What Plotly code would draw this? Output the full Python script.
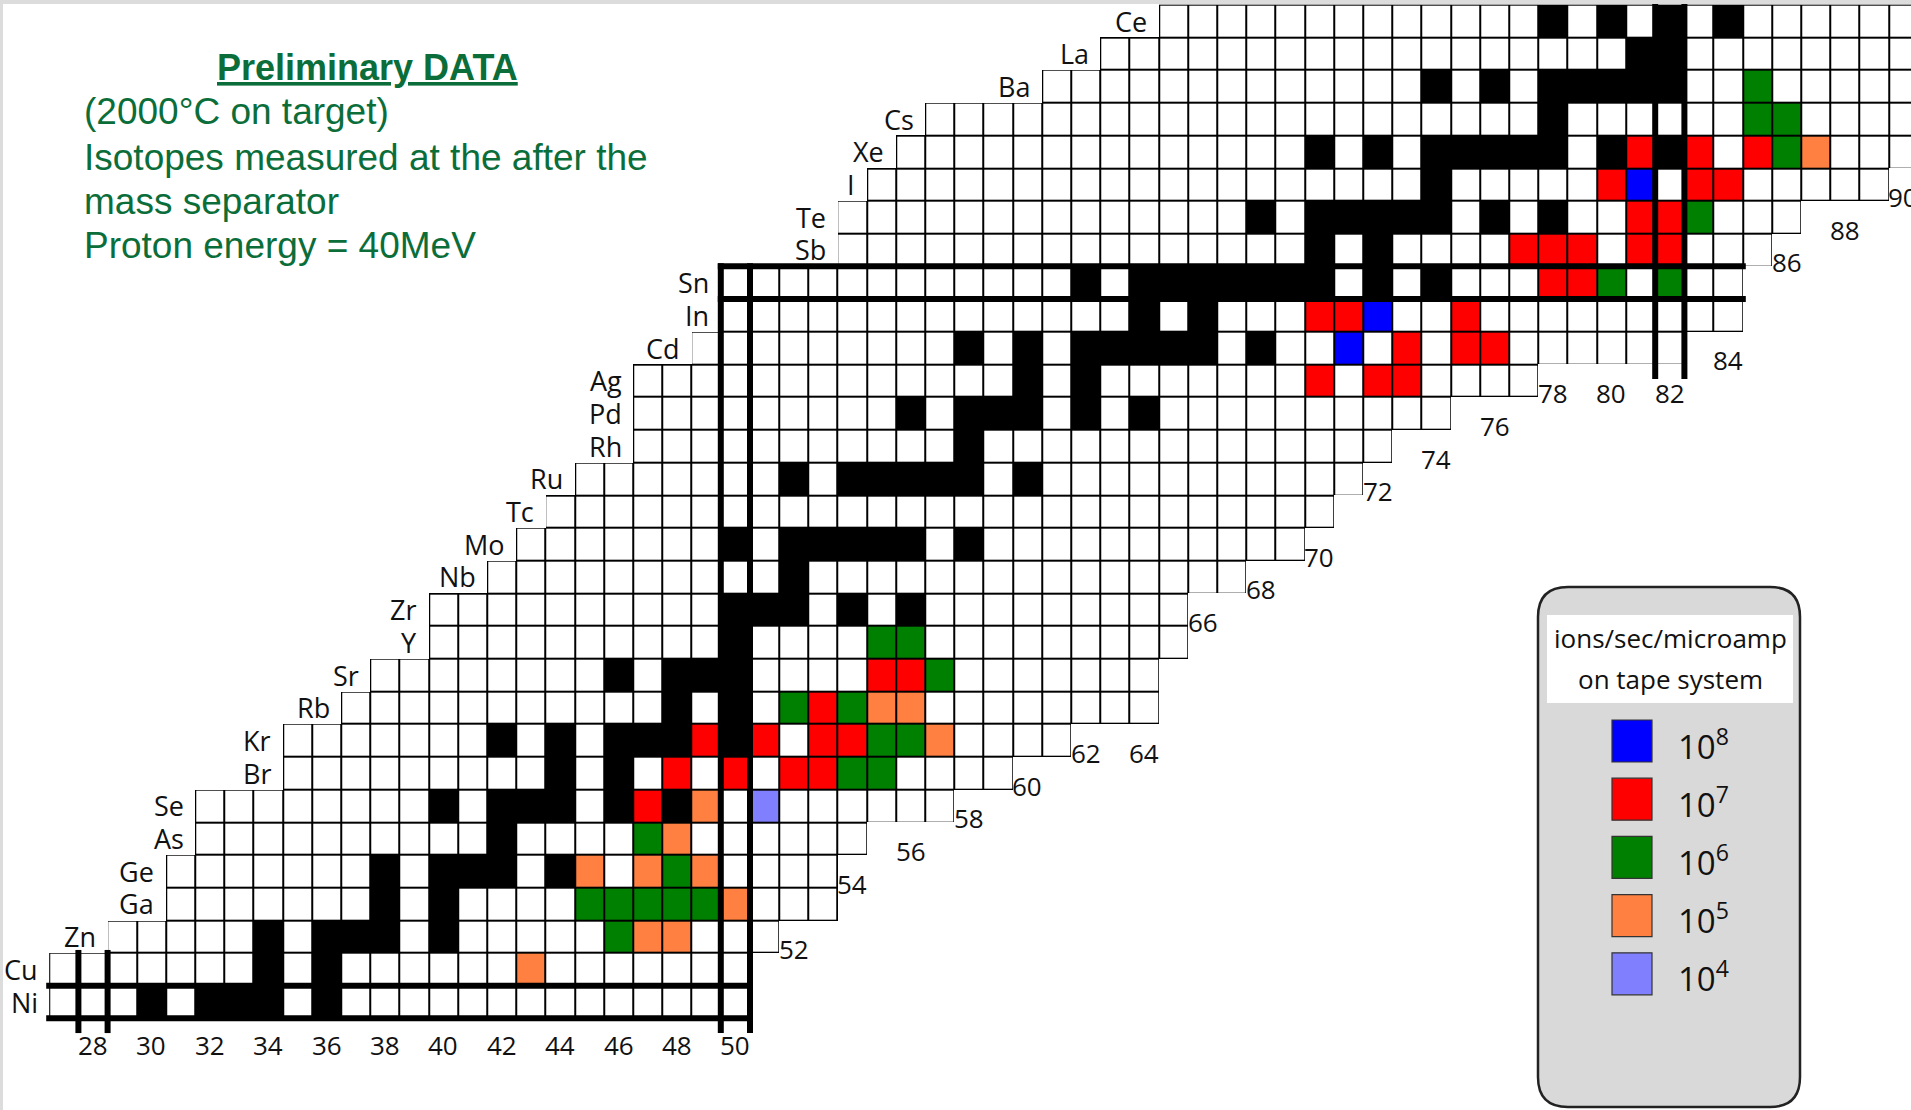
import plotly.graph_objects as go

# ---------------- chart of nuclides, Z = 28 (Ni) ... 58 (Ce) ----------------
elements = ["Ni", "Cu", "Zn", "Ga", "Ge", "As", "Se", "Br", "Kr", "Rb", "Sr", "Y", "Zr", "Nb", "Mo",
            "Tc", "Ru", "Rh", "Pd", "Ag", "Cd", "In", "Sn", "Sb", "Te", "I", "Xe", "Cs", "Ba", "La", "Ce"]
proton_numbers = [28, 29, 30, 31, 32, 33, 34, 35, 36, 37, 38, 39, 40, 41, 42,
                  43, 44, 45, 46, 47, 48, 49, 50, 51, 52, 53, 54, 55, 56, 57, 58]
# lightest / heaviest known isotope of each element (neutron number)
first_neutron = [27, 27, 29, 31, 31, 32, 32, 35, 35, 37, 38, 40, 40, 42, 43,
                 44, 45, 47, 47, 47, 49, 50, 50, 54, 54, 55, 56, 57, 61, 63, 65]
last_neutron = [50, 50, 51, 53, 53, 54, 57, 59, 61, 64, 64, 65, 65, 67, 69,
                70, 71, 72, 74, 77, 82, 84, 84, 85, 86, 89, 92, 92, 92, 92, 92]

# stable isotopes (neutron numbers) per element
stable = {
    "Ni": [30, 32, 33, 34, 36], "Cu": [34, 36], "Zn": [34, 36, 37, 38, 40], "Ga": [38, 40],
    "Ge": [38, 40, 41, 42, 44], "As": [42], "Se": [40, 42, 43, 44, 46, 48], "Br": [44, 46],
    "Kr": [42, 44, 46, 47, 48, 50], "Rb": [48, 50], "Sr": [46, 48, 49, 50], "Y": [50],
    "Zr": [50, 51, 52, 54, 56], "Nb": [52], "Mo": [50, 52, 53, 54, 55, 56, 58], "Tc": [],
    "Ru": [52, 54, 55, 56, 57, 58, 60], "Rh": [58], "Pd": [56, 58, 59, 60, 62, 64],
    "Ag": [60, 62], "Cd": [58, 60, 62, 63, 64, 65, 66, 68], "In": [64, 66],
    "Sn": [62, 64, 65, 66, 67, 68, 69, 70, 72, 74], "Sb": [70, 72],
    "Te": [68, 70, 71, 72, 73, 74, 76, 78], "I": [74],
    "Xe": [70, 72, 74, 75, 76, 77, 78, 80, 82], "Cs": [78],
    "Ba": [74, 76, 78, 79, 80, 81, 82], "La": [81, 82], "Ce": [78, 80, 82, 84],
}

# measured yields (Z, N), ions/sec/microamp on tape system
rate_1e8 = [(48, 71), (49, 72), (53, 81)]
rate_1e7 = [(34, 47), (35, 48), (35, 50), (35, 52), (35, 53), (36, 49), (36, 51), (36, 53), (36, 54),
            (37, 53), (38, 55), (38, 56), (47, 70), (47, 72), (47, 73), (48, 73), (48, 75), (48, 76),
            (49, 70), (49, 71), (49, 75), (50, 78), (50, 79), (51, 77), (51, 78), (51, 79), (51, 81),
            (51, 82), (52, 81), (52, 82), (53, 80), (53, 83), (53, 84), (54, 81), (54, 83), (54, 85)]
rate_1e6 = [(30, 46), (31, 45), (31, 46), (31, 47), (31, 48), (31, 49), (32, 48), (33, 47),
            (35, 54), (35, 55), (36, 55), (36, 56), (37, 52), (37, 54), (38, 57), (39, 55), (39, 56),
            (50, 80), (50, 82), (52, 83), (54, 86), (55, 85), (55, 86), (56, 85)]
rate_1e5 = [(29, 43), (30, 47), (30, 48), (31, 50), (32, 45), (32, 47), (32, 49), (33, 48),
            (34, 49), (36, 57), (37, 55), (37, 56), (54, 87)]
rate_1e4 = [(34, 51)]

magic_numbers = [28, 50, 82]
neutron_ticks = [28, 30, 32, 34, 36, 38, 40, 42, 44, 46, 48, 50]
edge_ticks = [52, 54, 56, 58, 60, 62, 64, 66, 68, 70, 72, 74, 76, 78, 80, 82, 84, 86, 88, 90]
edge_tick_rows = [30, 32, 33, 34, 35, 36, 36, 40, 41, 42, 44, 45, 46, 47, 47, 47, 48, 51, 52, 53]

legend_labels = ["10<sup>8</sup>", "10<sup>7</sup>", "10<sup>6</sup>", "10<sup>5</sup>", "10<sup>4</sup>"]

# ---------------- styling ----------------
W, H = 1911, 1110
CELL_COLORS = ["#ffffff", "#000000", "#8080ff", "#ff8040", "#008000", "#ff0000", "#0000ff"]
LEGEND_COLORS = ["#0000ff", "#ff0000", "#008000", "#ff8040", "#8080ff"]
GREEN_TEXT = "#0b6e3a"
CHART_FONT = "Open Sans, Noto Sans, DejaVu Sans, sans-serif"
NOTE_FONT = "Liberation Sans, Arial, sans-serif"

# ---------------- build grids ----------------
n_axis = list(range(min(first_neutron), max(last_neutron) + 1))
base = []
cats = []
for el, zp, n0, n1 in zip(elements, proton_numbers, first_neutron, last_neutron):
    row_b, row_c = [], []
    for n in n_axis:
        if n0 <= n <= n1:
            row_b.append(1)
            row_c.append(1 if n in stable[el] else 0)
        else:
            row_b.append(None)
            row_c.append(None)
    base.append(row_b)
    cats.append(row_c)

for code, pts in [(2, rate_1e4), (3, rate_1e5), (4, rate_1e6), (5, rate_1e7), (6, rate_1e8)]:
    for zp, n in pts:
        cats[proton_numbers.index(zp)][n_axis.index(n)] = code

k = len(CELL_COLORS)
scale = []
for i, c in enumerate(CELL_COLORS):
    scale.append([i / k, c])
    scale.append([(i + 1) / k, c])

fig = go.Figure()
# black under-layer: visible through the gaps as cell borders
fig.add_trace(go.Heatmap(x=n_axis, y=proton_numbers, z=base,
                         colorscale=[[0, "#000000"], [1, "#000000"]],
                         showscale=False, hoverinfo="skip"))
fig.add_trace(go.Heatmap(x=n_axis, y=proton_numbers, z=cats,
                         colorscale=scale, zmin=-0.5, zmax=k - 0.5,
                         xgap=2, ygap=2, showscale=False, hoverinfo="skip"))

# ---------------- magic-number lines ----------------
shapes = []
dx = 3 / 29.2   # half line width in neutron units
dy = 3 / 32.7   # half line width in proton units
thick = dict(color="#000000", width=6)


def vline(x, y0, y1):
    shapes.append(dict(type="line", xref="x", yref="y", x0=x, x1=x, y0=y0, y1=y1, line=thick, layer="above"))


def hline(y, x0, x1):
    shapes.append(dict(type="line", xref="x", yref="y", x0=x0, x1=x1, y0=y, y1=y, line=thick, layer="above"))


bottom = 27.05
for m in magic_numbers:
    # neutron magic column: from the highest row containing it down
    rows_with = [zp for zp, n0, n1 in zip(proton_numbers, first_neutron, last_neutron) if n0 <= m <= n1]
    if rows_with:
        top = max(rows_with) + 0.5 + dy
        low = min(rows_with) - 0.5
        y_low = bottom if low < 29 else low - 0.45
        for x in (m - 0.5, m + 0.5):
            vline(x, y_low, top if max(rows_with) < 58 else 59)
    # proton magic row
    if m in proton_numbers:
        i = proton_numbers.index(m)
        for y in (m - 0.5, m + 0.5):
            hline(y, first_neutron[i] - 0.5 - dx, last_neutron[i] + 0.5 + dx)

# ---------------- labels ----------------
ann = []
for el, zp, n0 in zip(elements, proton_numbers, first_neutron):
    ann.append(dict(x=n0 - 0.5 - 0.33, y=zp, xref="x", yref="y", text=el, showarrow=False,
                    xanchor="right", yanchor="middle", font=dict(family=CHART_FONT, size=27, color="#111")))
for n in neutron_ticks:
    ann.append(dict(x=n, y=26.68, xref="x", yref="y", text=str(n), showarrow=False,
                    xanchor="center", yanchor="middle", font=dict(family=CHART_FONT, size=26, color="#111")))
for n, zr in zip(edge_ticks, edge_tick_rows):
    ann.append(dict(x=n, y=zr - 0.38, xref="x", yref="y", text=str(n), showarrow=False,
                    xanchor="center", yanchor="middle", font=dict(family=CHART_FONT, size=26, color="#111")))


def px(x):
    return x / W


def py(y):
    return 1 - y / H


# notes in the upper left
ann.append(dict(x=px(367), y=py(67), xref="paper", yref="paper", text="<b><u>Preliminary DATA</u></b>",
                showarrow=False, xanchor="center", yanchor="middle",
                font=dict(family=NOTE_FONT, size=36, color=GREEN_TEXT)))
note_lines = ["(2000°C on target)", "Isotopes measured at the after the", "mass separator",
              "Proton energy = 40MeV"]
for line, yc in zip(note_lines, [112, 157, 201, 246]):
    ann.append(dict(x=px(82), y=py(yc), xref="paper", yref="paper", text=line, showarrow=False,
                    xanchor="left", yanchor="middle",
                    font=dict(family=NOTE_FONT, size=37, color=GREEN_TEXT)))

# ---------------- legend box ----------------
bx0, bx1, by0, by1, r = 1538, 1800, 587, 1107, 30
path = (f"M {px(bx0 + r)},{py(by0)} L {px(bx1 - r)},{py(by0)} Q {px(bx1)},{py(by0)} {px(bx1)},{py(by0 + r)} "
        f"L {px(bx1)},{py(by1 - r)} Q {px(bx1)},{py(by1)} {px(bx1 - r)},{py(by1)} "
        f"L {px(bx0 + r)},{py(by1)} Q {px(bx0)},{py(by1)} {px(bx0)},{py(by1 - r)} "
        f"L {px(bx0)},{py(by0 + r)} Q {px(bx0)},{py(by0)} {px(bx0 + r)},{py(by0)} Z")
shapes.append(dict(type="path", xref="paper", yref="paper", path=path,
                   fillcolor="#d9d9d9", line=dict(color="#222", width=2.5), layer="above"))
shapes.append(dict(type="rect", xref="paper", yref="paper", x0=px(1547), x1=px(1793), y0=py(703), y1=py(615),
                   fillcolor="#ffffff", line=dict(width=0), layer="above"))
ann.append(dict(x=px(1670), y=py(638), xref="paper", yref="paper", text="ions/sec/microamp", showarrow=False,
                xanchor="center", yanchor="middle", font=dict(family=CHART_FONT, size=26, color="#111")))
ann.append(dict(x=px(1670), y=py(679), xref="paper", yref="paper", text="on tape system", showarrow=False,
                xanchor="center", yanchor="middle", font=dict(family=CHART_FONT, size=26, color="#111")))
for i, (lab, col) in enumerate(zip(legend_labels, LEGEND_COLORS)):
    yc = 741 + i * 58.2
    shapes.append(dict(type="rect", xref="paper", yref="paper", x0=px(1612), x1=px(1652),
                       y0=py(yc + 21), y1=py(yc - 21), fillcolor=col,
                       line=dict(color="#333", width=1.2), layer="above"))
    ann.append(dict(x=px(1676), y=py(yc + 3), xref="paper", yref="paper", text=lab, showarrow=False,
                    xanchor="left", yanchor="middle", font=dict(family=CHART_FONT, size=33, color="#111")))

# thin grey frame along the top and left edges
shapes.append(dict(type="rect", xref="paper", yref="paper", x0=0, x1=1, y0=py(4), y1=1,
                   fillcolor="#dcdcdc", line=dict(width=0), layer="above"))
shapes.append(dict(type="rect", xref="paper", yref="paper", x0=0, x1=px(3), y0=0, y1=1,
                   fillcolor="#dcdcdc", line=dict(width=0), layer="above"))

fig.update_layout(
    width=W, height=H, margin=dict(l=0, r=0, t=0, b=0),
    paper_bgcolor="#ffffff", plot_bgcolor="#ffffff",
    xaxis=dict(range=[28 - 93 / 29.2, 28 + (W - 93) / 29.2], visible=False, fixedrange=True),
    yaxis=dict(range=[28 - (H - 1002) / 32.7, 28 + 1002 / 32.7], visible=False, fixedrange=True),
    shapes=shapes, annotations=ann, showlegend=False,
)

fig.write_html("out.html", config={"displayModeBar": False})
